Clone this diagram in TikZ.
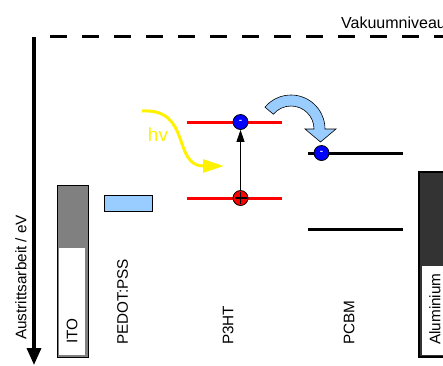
\documentclass[tikz,border=0pt]{standalone}
\usepackage{fontspec}
\setmainfont{Liberation Sans}
\usetikzlibrary{arrows.meta}
\definecolor{lblue}{HTML}{99CCFF}
\definecolor{itogray}{HTML}{808080}
\definecolor{aldark}{HTML}{333333}
\begin{document}
\begin{tikzpicture}[x=1pt,y=-1pt,
  lbl/.style={rotate=90, anchor=west, inner sep=0pt, font=\fontsize{15.3}{18}\selectfont},
  boxnode/.style={inner sep=0pt, outer sep=0pt},
  elec/.style={circle, draw=black, fill=blue, minimum size=15pt, inner sep=0pt, line width=0.8pt,
    text=white!85!blue, font=\fontsize{10}{10}\selectfont\bfseries},
  hole/.style={circle, draw=black, fill=red, minimum size=15pt, inner sep=0pt, line width=0.8pt,
    path picture={\draw[black, line width=1.3pt]
      ([yshift=-1.5pt]path picture bounding box.north) -- ([yshift=1.5pt]path picture bounding box.south)
      ([xshift=1.5pt]path picture bounding box.west) -- ([xshift=-1.5pt]path picture bounding box.east);}},
  lev/.style={line width=3pt},
]
\useasboundingbox (0,0) rectangle (443,365);

% vacuum level
\coordinate (vl) at (50,36);
\coordinate (vr) at (446,36);
\draw[line width=3pt, dash pattern=on 17pt off 15pt] (vl) -- (vr);
\node[anchor=base west, inner sep=0pt, font=\fontsize{16}{18}\selectfont] (vak) at (341,28) {Vakuumniveau};

% energy axis
\coordinate (at) at (34,37);
\coordinate (ab) at (34,365);
\draw[line width=3.5pt, -{Triangle[width=14pt,length=17pt]}] (at) -- (ab);
\node[lbl] (axl) at (21,340) {Austrittsarbeit / eV};

% ITO
\node[boxnode, draw=black, line width=1pt, fill=itogray, minimum width=31pt, minimum height=172pt] (ito) at (72.5,271) {};
\node[boxnode, fill=white, minimum width=26pt, minimum height=107pt] (itow) at (72,301.5) {};
\node[lbl] (itol) at (72,344) {ITO};

% PEDOT:PSS
\node[boxnode, draw=black, line width=0.8pt, fill=lblue, minimum width=48pt, minimum height=16pt] (pedot) at (128,203) {};
\node[lbl] (pedotl) at (122.5,345) {PEDOT:PSS};

% P3HT levels
\coordinate (p3l1) at (187,122); \coordinate (p3r1) at (282,122);
\coordinate (p3l2) at (187,198); \coordinate (p3r2) at (282,198);
\draw[red, lev] (p3l1) -- (p3r1);
\draw[red, lev] (p3l2) -- (p3r2);
\node[lbl] (p3htl) at (228,345) {P3HT};

% PCBM levels
\coordinate (pcl1) at (308,153); \coordinate (pcr1) at (403,153);
\coordinate (pcl2) at (308,229); \coordinate (pcr2) at (403,229);
\draw[black, lev] (pcl1) -- (pcr1);
\draw[black, lev] (pcl2) -- (pcr2);
\node[lbl] (pcbml) at (349,345) {PCBM};

% Aluminium
\node[boxnode, draw=black, line width=1.2pt, fill=aldark, minimum width=32pt, minimum height=185pt] (al) at (435,264.5) {};
\node[boxnode, fill=white, minimum width=29pt, minimum height=89pt] (alw) at (436.5,310.5) {};
\node[lbl] (all) at (435,345) {Aluminium};

% charges
\node[elec] (e1) at (240.5,122) {-};
\node[hole] (h1) at (240.5,198) {};
\node[elec] (e2) at (321.5,153) {-};
\draw[line width=0.8pt, -{Triangle[width=8pt,length=12pt]}] (h1) -- (e1);

% photon
\coordinate (hv1) at (142,111);
\coordinate (hv2) at (224,166);
\draw[yellow, line width=3pt, -{Triangle[width=13pt,length=21pt]}] (hv1) .. controls (192,108) and (172,166) .. (hv2);
\node[text=yellow, inner sep=0pt, font=\fontsize{19}{20}\selectfont] (hvl) at (158,135) {hv};

% electron transfer arrow
\coordinate (ca) at (291,129);
\filldraw[fill=lblue, draw=black, line width=0.6pt]
  (ca) ++(140:34pt) arc[start angle=140, end angle=0, radius=34pt]
  -- (336,129) -- (320.5,142) -- (305,129) -- (314,129)
  arc[start angle=0, end angle=140, radius=23pt] -- cycle;
\end{tikzpicture}
\end{document}
